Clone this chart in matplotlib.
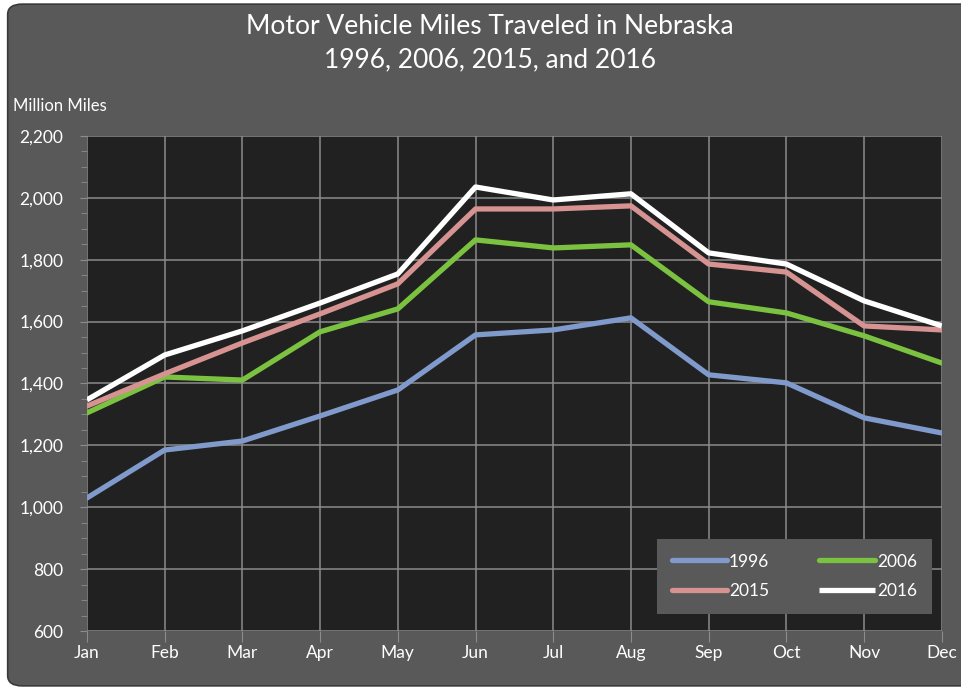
import matplotlib
matplotlib.use("Agg")
import matplotlib.pyplot as plt
from matplotlib.patches import FancyBboxPatch
from matplotlib.ticker import MultipleLocator

plt.rcParams['font.family'] = ['Lato', 'DejaVu Sans']

months = ['Jan', 'Feb', 'Mar', 'Apr', 'May', 'Jun', 'Jul', 'Aug', 'Sep', 'Oct', 'Nov', 'Dec']
vmt_1996 = [1030, 1185, 1214, 1295, 1379, 1557, 1573, 1612, 1428, 1402, 1289, 1240]
vmt_2006 = [1305, 1421, 1411, 1567, 1641, 1864, 1838, 1848, 1664, 1628, 1554, 1466]
vmt_2015 = [1327, 1431, 1531, 1625, 1722, 1964, 1964, 1974, 1786, 1760, 1586, 1573]
vmt_2016 = [1347, 1492, 1570, 1660, 1754, 2035, 1993, 2013, 1822, 1786, 1667, 1586]

bg = '#595959'
fig = plt.figure(figsize=(9.61, 6.9), dpi=100, facecolor='white')

# chart frame with rounded corners
frame = FancyBboxPatch((0.008, 0.006), 1.05, 0.988, boxstyle='round,pad=0,rounding_size=0.015',
                       transform=fig.transFigure, facecolor=bg, edgecolor='#3a3a3a',
                       linewidth=1.2, zorder=-10)
fig.patches.append(frame)

ax = fig.add_axes([0.0905, 0.0855, 0.8895, 0.7175])
ax.set_facecolor('#212121')

x = range(len(months))
l96, = ax.plot(x, vmt_1996, color='#7f9acb', lw=3.8, label='1996', solid_capstyle='round')
l06, = ax.plot(x, vmt_2006, color='#7cc241', lw=3.8, label='2006', solid_capstyle='round')
l15, = ax.plot(x, vmt_2015, color='#d69392', lw=3.8, label='2015', solid_capstyle='round')
l16, = ax.plot(x, vmt_2016, color='white', lw=3.8, label='2016', solid_capstyle='butt')

ax.set_xlim(0, 11)
ax.set_ylim(600, 2200)
ax.set_xticks(list(x))
ax.set_xticklabels(months)
ax.yaxis.set_major_locator(MultipleLocator(200))
ax.yaxis.set_minor_locator(MultipleLocator(50))
ax.yaxis.set_major_formatter(matplotlib.ticker.FuncFormatter(lambda v, p: f'{int(v):,}'))
ax.grid(True, which='major', color='#8c8c8c', lw=1.1)
ax.set_axisbelow(True)
for s in ax.spines.values():
    s.set_visible(False)
ax.tick_params(axis='both', which='both', colors='#8c8c8c', labelcolor='white', labelsize=12.5)
ax.tick_params(axis='y', which='major', length=5, pad=12)
ax.tick_params(axis='y', which='minor', length=4)
ax.tick_params(axis='x', length=8, pad=2)

fig.text(0.51, 0.962, 'Motor Vehicle Miles Traveled in Nebraska', ha='center', va='center',
         color='white', fontsize=19)
fig.text(0.51, 0.913, '1996, 2006, 2015, and 2016', ha='center', va='center',
         color='white', fontsize=19)
fig.text(0.014, 0.846, 'Million Miles', ha='left', va='center', color='white', fontsize=12)

# legend filled row-wise: 1996, 2006 / 2015, 2016
leg = ax.legend([l96, l15, l06, l16], ['1996', '2015', '2006', '2016'],
                loc='lower right', bbox_to_anchor=(0.988, 0.034), ncol=2, frameon=True,
                fancybox=False, facecolor=bg, edgecolor=bg, framealpha=1,
                labelcolor='white', fontsize=12.5, handlelength=3.2, handletextpad=0.1,
                columnspacing=2.9, borderpad=0.85, labelspacing=0.8, borderaxespad=0)
leg.get_frame().set_linewidth(0)

fig.savefig('out.png', dpi=100, facecolor=fig.get_facecolor())
